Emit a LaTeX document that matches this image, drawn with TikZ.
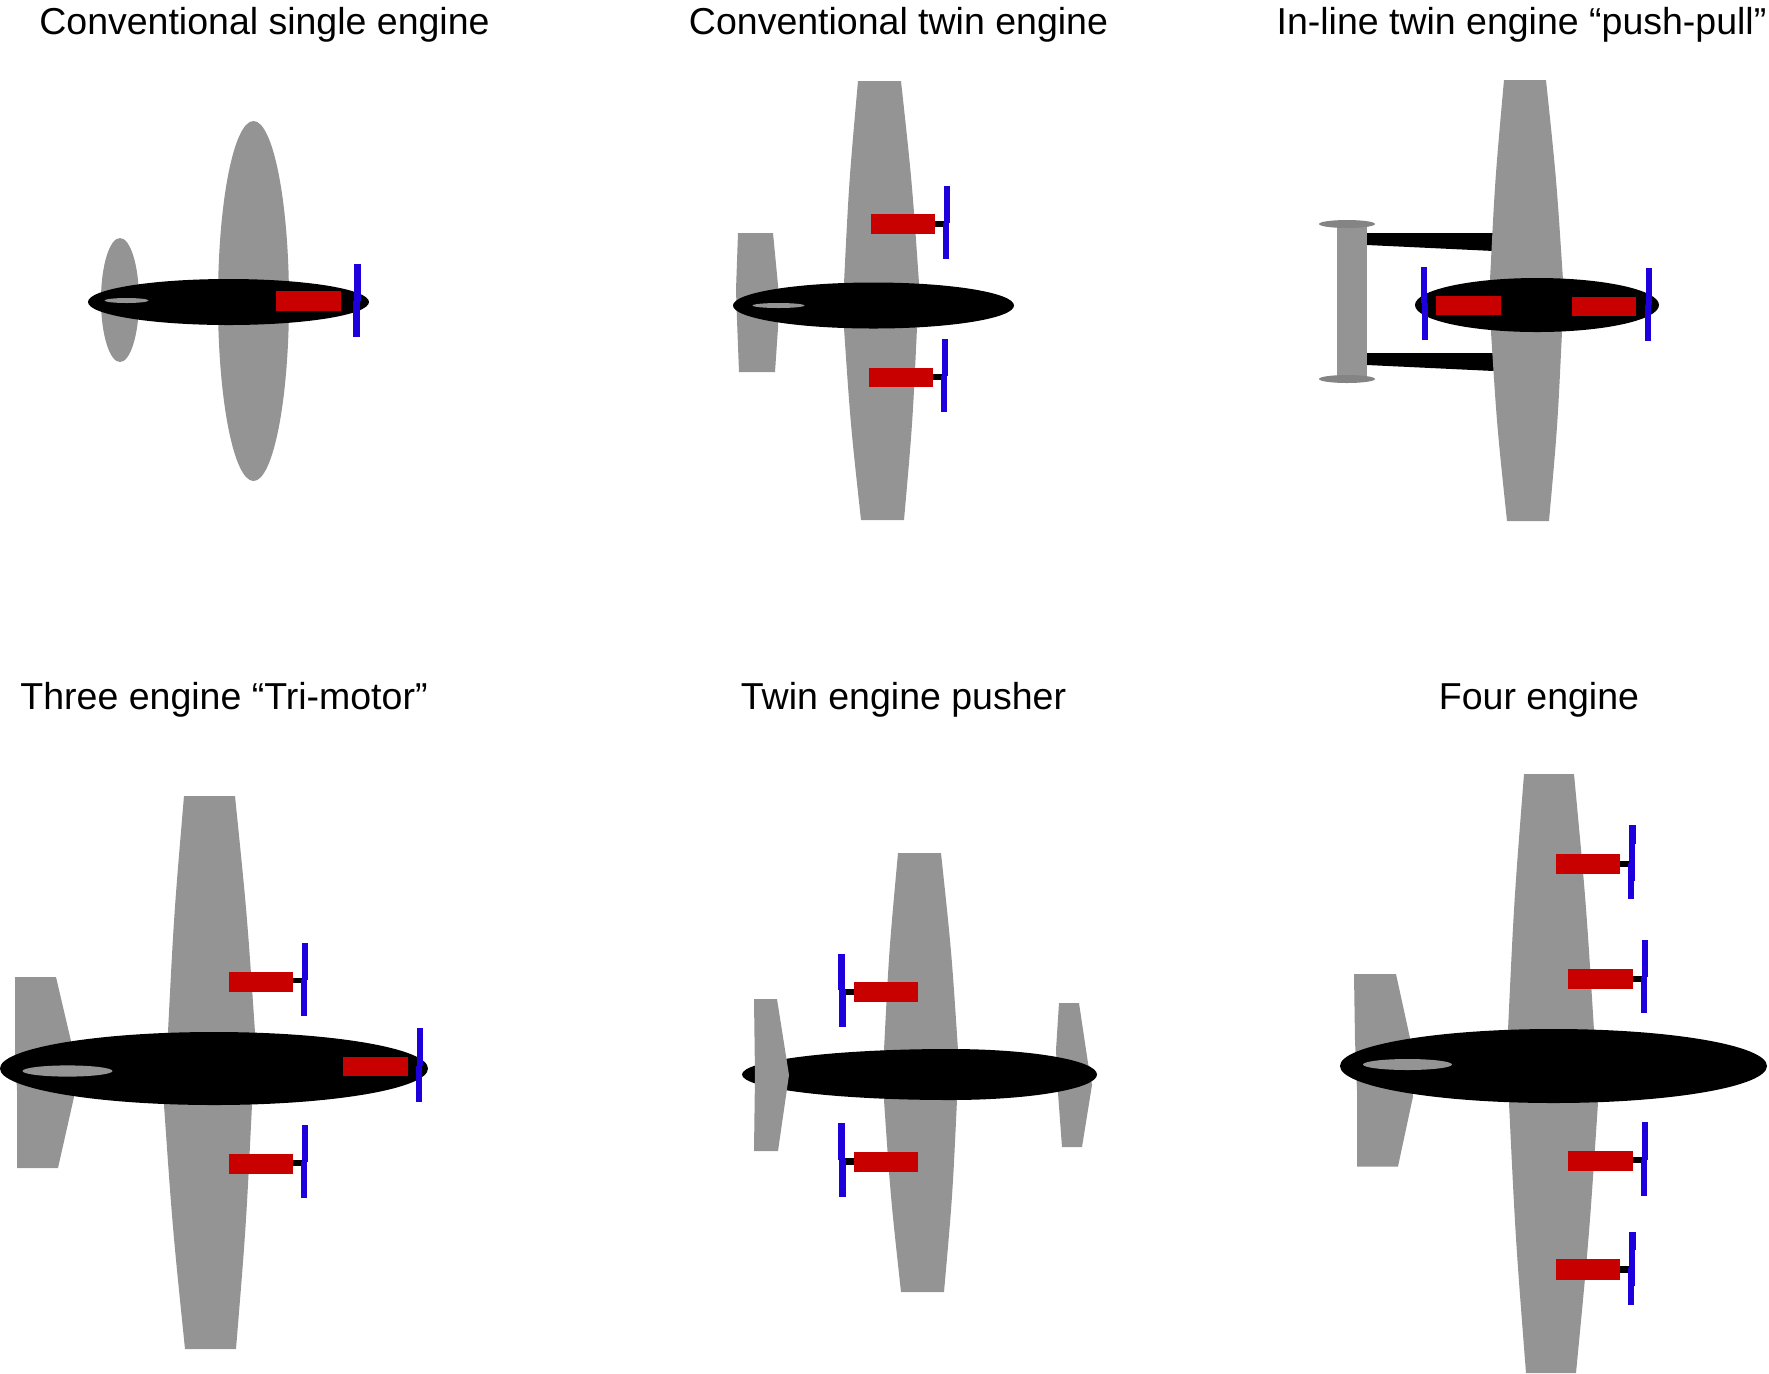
\documentclass[tikz,border=0pt]{standalone}
\usepackage{fontspec}
\setmainfont{Liberation Sans}
\definecolor{wingcol}{HTML}{949494}
\definecolor{platecol}{HTML}{848484}
\definecolor{enginecol}{HTML}{C80000}
\definecolor{bladecol}{HTML}{1E00DC}
\tikzset{
  wing/.style={fill=wingcol},
  plate/.style={fill=platecol},
  body/.style={fill=black},
  motor/.style={fill=enginecol},
  blade/.style={fill=bladecol},
  title/.style={anchor=base,inner sep=0pt,font=\fontsize{18.75pt}{22pt}\selectfont}
}
% engine x0 x1 y0 y1
\newcommand{\motorbox}[4]{\fill[motor] (#1,#3) rectangle (#2,#4);}
\newcommand{\shaftbox}[4]{\fill[body] (#1,#3) rectangle (#2,#4);}
% upper x, top y, middle y, lower x, bottom y; blade width in \pw
\def\pw{6}
\newcommand{\propbox}[5]{\fill[blade] (#1,#2) rectangle ++(\pw,#3-#2);\fill[blade] (#4,#3) rectangle ++(\pw,#5-#3);}
\begin{document}
\begin{tikzpicture}[x=0.5pt,y=-0.5pt]
\useasboundingbox (0,0) rectangle (1769,1373);
\node[title] (t1) at (264.5,34) {Conventional single engine};
\node[title] (t2) at (898.5,34) {Conventional twin engine};
\node[title] (t3) at (1521.5,34) {In-line twin engine “push-pull”};
\node[title] (t4) at (224,709) {Three engine “Tri-motor”};
\node[title] (t5) at (903.5,709) {Twin engine pusher};
\node[title] (t6) at (1539,709) {Four engine};
% Plane 1
\fill[wing] (253.5,301) ellipse [x radius=35.5,y radius=180];
\fill[wing] (120,300) ellipse [x radius=19,y radius=62];
\fill[body] (228.5,302) ellipse [x radius=140.5,y radius=23];
\fill[wing] (126.5,300.5) ellipse [x radius=22,y radius=2.5];
\motorbox{276}{341}{291}{311}
\def\pw{7}
\propbox{354}{264}{301}{353}{337}
\def\pw{6}
% Plane 2
\fill[wing] (858,81) .. controls (849,182) .. (844,283) -- (844,328) .. controls (850.5,424) .. (861,520) -- (904,520) .. controls (912.5,424) .. (917,328) -- (919,283) .. controls (912,182) .. (901,81) -- cycle;
\fill[wing] (738,233) -- (736,290) -- (737,320) -- (739,372) -- (775,372) -- (778,328) -- (778,285) -- (773,233) -- cycle;
\fill[body] (873.5,305.5) ellipse [x radius=140.5,y radius=23];
\fill[wing] (778.5,305.5) ellipse [x radius=26,y radius=2.5];
\shaftbox{935}{944}{221}{227}
\motorbox{871}{935}{214}{234}
\propbox{944}{186}{223}{943}{259}
\shaftbox{933}{942}{374}{380}
\motorbox{869}{933}{368}{387}
\propbox{942}{339}{376}{941}{412}
% Plane 3
\fill[body] (1367,233) -- (1494,233) -- (1494,251) -- (1367,245) -- cycle;
\fill[body] (1367,353) -- (1494,353) -- (1494,371) -- (1367,365) -- cycle;
\fill[wing] (1337,227) rectangle (1367,377);
\fill[plate] (1347,224) ellipse [x radius=28,y radius=4];
\fill[plate] (1347,379) ellipse [x radius=28,y radius=4];
\fill[wing] (1504,80) .. controls (1495,180) .. (1490,280) -- (1491,332) .. controls (1497,426.5) .. (1507,521) -- (1549,521) .. controls (1557.5,426.5) .. (1562,332) -- (1563,280) .. controls (1556.5,180) .. (1546,80) -- cycle;
\fill[body] (1537,305) ellipse [x radius=122,y radius=27];
\motorbox{1436}{1501}{296}{315}
\motorbox{1572}{1636}{297}{316}
\propbox{1421}{267}{303}{1422}{340}
\propbox{1646}{268}{305}{1645}{341}
% Plane 4
\fill[wing] (184,796) .. controls (174,914) .. (168,1032) -- (164,1105) .. controls (172.5,1227) .. (185,1349) -- (236,1349) .. controls (246,1227) .. (252,1105) -- (255,1032) .. controls (247,914) .. (235,796) -- cycle;
\fill[wing] (15,977) -- (56,977) -- (71,1041) -- (74,1097) -- (58,1168) -- (17,1168) -- (17,1090) -- (15,1050) -- cycle;
\fill[body] (214,1068.5) ellipse [x radius=214,y radius=36.5];
\fill[wing] (67.5,1071) ellipse [x radius=45,y radius=5.6];
\shaftbox{293}{302}{977.5}{983}
\motorbox{229}{293}{971.5}{991.5}
\propbox{302}{943}{979.5}{301}{1015.5}
\shaftbox{293}{302}{1160}{1166}
\motorbox{229}{293}{1154}{1174}
\propbox{302}{1124.5}{1162}{301}{1198}
\motorbox{343}{408}{1056.5}{1076}
\propbox{417}{1027.5}{1065.5}{416}{1101.5}
% Plane 5
\fill[wing] (898,853) .. controls (889,951.5) .. (884,1050) -- (884,1100) .. controls (890.5,1196) .. (901,1292) -- (944,1292) .. controls (952.5,1196) .. (957,1100) -- (958,1050) .. controls (951.5,951.5) .. (941,853) -- cycle;
\fill[wing] (1059,1003) -- (1056,1050) -- (1058,1093) -- (1062,1147) -- (1082,1147) -- (1092,1085) -- (1088,1063) -- (1079,1003) -- cycle;
\fill[body] (742,1074.5) arc [start angle=180,end angle=90,x radius=208,y radius=25.5]
  arc [start angle=90,end angle=0,x radius=147,y radius=25.5]
  arc [start angle=0,end angle=-90,x radius=147,y radius=25.5]
  arc [start angle=-90,end angle=-180,x radius=208,y radius=25.5] -- cycle;
\fill[wing] (754,999) -- (777,999) -- (789,1075) -- (778,1151) -- (754,1151) -- (755,1075) -- cycle;
\def\pw{7}
\shaftbox{845}{854}{989}{995}
\motorbox{854}{918}{982}{1002}
\propbox{838}{954}{990}{839}{1027}
\shaftbox{845}{854}{1158}{1165}
\motorbox{854}{918}{1152}{1172}
\propbox{838}{1123}{1160}{839}{1197}
\def\pw{6}
% Plane 6
\fill[wing] (1524,774) .. controls (1514,902) .. (1508,1030) -- (1509,1103) .. controls (1515.5,1238) .. (1526,1373) -- (1576,1373) .. controls (1589,1238) .. (1598,1103) -- (1594,1030) .. controls (1586,902) .. (1574,774) -- cycle;
\fill[wing] (1354,974) -- (1396,974) -- (1410,1038) -- (1413,1096.5) -- (1398,1166.5) -- (1357,1166.5) -- (1357,1090) -- (1355,1040) -- cycle;
\fill[body] (1553.5,1066) ellipse [x radius=213.5,y radius=37];
\fill[wing] (1407.5,1064.5) ellipse [x radius=44.5,y radius=5.5];
\shaftbox{1620}{1629}{860.5}{867}
\motorbox{1556}{1620}{854}{874}
\fill[blade] (1629,825) rectangle (1636,844);
\fill[blade] (1629,844) rectangle (1635,881);
\fill[blade] (1628,863) rectangle (1634,899);
\shaftbox{1633}{1642}{975.5}{981.5}
\motorbox{1568}{1633}{969}{989}
\propbox{1642}{940}{977}{1641}{1013}
\shaftbox{1633}{1642}{1157}{1163}
\motorbox{1568}{1633}{1151}{1171}
\propbox{1642}{1122}{1160}{1641}{1196}
\shaftbox{1620}{1629}{1266}{1272.5}
\motorbox{1556}{1620}{1259}{1279.5}
\fill[blade] (1629,1231.5) rectangle (1636,1250);
\fill[blade] (1629,1250) rectangle (1635,1286);
\fill[blade] (1628,1268) rectangle (1634,1305);
\end{tikzpicture}
\end{document}
